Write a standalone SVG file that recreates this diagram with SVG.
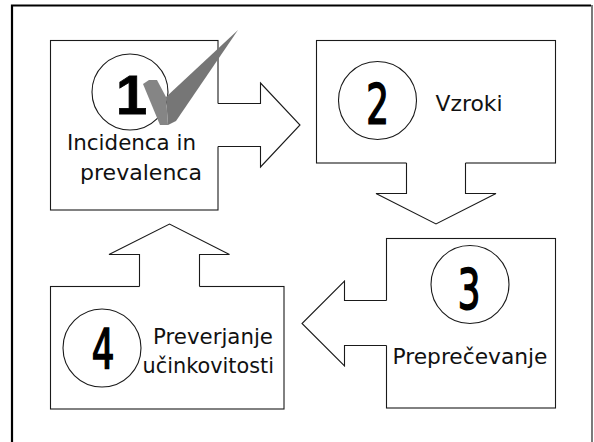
<svg xmlns="http://www.w3.org/2000/svg" width="594" height="442" viewBox="0 0 594 442">
  <style>
    .box { fill: #ffffff; stroke: #1a1a1a; stroke-width: 1.1; }
    .badge { fill: #ffffff; stroke: #1a1a1a; stroke-width: 1.1; }
    .arrow-fill { fill: #ffffff; stroke: none; }
    .arrow-line { fill: none; stroke: #1a1a1a; stroke-width: 1.1; stroke-linejoin: miter; }
    .label { font-family: "DejaVu Sans", "Liberation Sans", sans-serif; font-size: 21px; fill: #111111; }
    .num { font-family: "DejaVu Sans Condensed", "DejaVu Sans", sans-serif; font-size: 55px; fill: #000000; stroke: #000000; stroke-width: 1.6; text-anchor: middle; }
  </style>

  <rect x="0" y="0" width="594" height="442" fill="#ffffff"/>

  <!-- outer frame (open at the bottom) -->
  <path d="M12,442 V5.5 H591" fill="none" stroke="#000000" stroke-width="2.2"/>
  <path d="M592,5 V442" fill="none" stroke="#333333" stroke-width="1.3"/>

  <!-- step 1 -->
  <g id="node-1">
    <rect class="box" x="50.5" y="40.5" width="167.5" height="169.5"/>
    <circle class="badge" cx="130" cy="92" r="38"/>
    <text x="131.5" y="113.5" font-family="'Liberation Sans', Arial, sans-serif" font-weight="bold" font-size="56" text-anchor="middle" fill="#000000" stroke="#000000" stroke-width="0.8">1</text>
    <!-- check mark -->
    <path d="M166,97 L238,30 L176,121 L168,125 Z" fill="#767676"/>
    <path d="M143,84 L149,80 L157,80 L166,97 L168,125 L160,125 Z" fill="#858585"/>
    <text class="label" x="67" y="150" textLength="129" lengthAdjust="spacingAndGlyphs">Incidenca in</text>
    <text class="label" x="80" y="180" textLength="122" lengthAdjust="spacingAndGlyphs">prevalenca</text>
  </g>

  <!-- step 2 -->
  <g id="node-2">
    <rect class="box" x="316.5" y="40.5" width="239" height="122.5"/>
    <circle class="badge" cx="377.5" cy="100.5" r="39"/>
    <text class="num" transform="translate(377.5,123) scale(0.72,1)">2</text>
    <text class="label" x="435.5" y="110.5" font-size="22" textLength="67" lengthAdjust="spacingAndGlyphs">Vzroki</text>
  </g>

  <!-- step 3 -->
  <g id="node-3">
    <rect class="box" x="386.5" y="238.5" width="169" height="169.5"/>
    <circle class="badge" cx="470" cy="284.5" r="39"/>
    <text class="num" transform="translate(469,307.5) scale(0.72,1)">3</text>
    <text class="label" x="392.5" y="364" font-size="23" textLength="155" lengthAdjust="spacingAndGlyphs">Preprečevanje</text>
  </g>

  <!-- step 4 -->
  <g id="node-4">
    <rect class="box" x="50.5" y="286.5" width="233.5" height="122.5"/>
    <circle class="badge" cx="102" cy="348" r="39"/>
    <text class="num" transform="translate(103,368) scale(0.72,1)">4</text>
    <text class="label" x="153" y="343.5" textLength="120" lengthAdjust="spacingAndGlyphs">Preverjanje</text>
    <text class="label" x="142.5" y="372.5" textLength="131.5" lengthAdjust="spacingAndGlyphs">učinkovitosti</text>
  </g>

  <!-- block arrows between steps; fills overlap the box edge so the outline reads as one shape -->
  <g id="connectors">
    <!-- 1 to 2 -->
    <polygon class="arrow-fill" points="216.5,103.5 260.5,103.5 260.5,83 300,125 260.5,167 260.5,146.5 216.5,146.5"/>
    <path class="arrow-line" d="M218,103.5 H260.5 V83 L300,125 L260.5,167 V146.5 H218"/>
    <!-- 2 to 3 -->
    <polygon class="arrow-fill" points="406.5,162 406.5,193.5 376,193.5 436,224 496,193.5 465.5,193.5 465.5,162"/>
    <path class="arrow-line" d="M406.5,163 V193.5 H376 L436,224 L496,193.5 H465.5 V163"/>
    <!-- 3 to 4 -->
    <polygon class="arrow-fill" points="388,300.5 344.5,300.5 344.5,281 302,323.5 344.5,366 344.5,345.5 388,345.5"/>
    <path class="arrow-line" d="M386.5,300.5 H344.5 V281 L302,323.5 L344.5,366 V345.5 H386.5"/>
    <!-- 4 to 1 -->
    <polygon class="arrow-fill" points="139.5,288 139.5,254.5 109,254.5 169.5,224 229.5,254.5 199.5,254.5 199.5,288"/>
    <path class="arrow-line" d="M139.5,286.5 V254.5 H109 L169.5,224 L229.5,254.5 H199.5 V286.5"/>
  </g>
</svg>
